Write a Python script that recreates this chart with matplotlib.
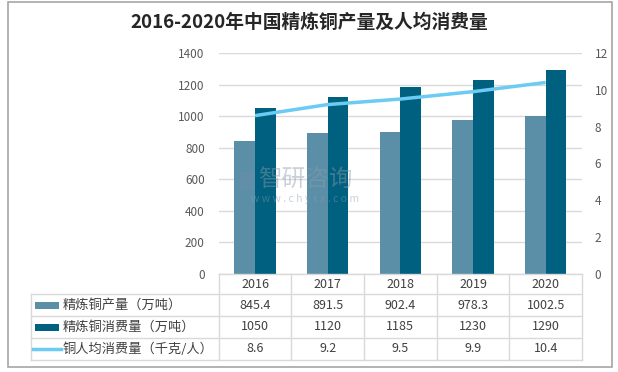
import matplotlib
matplotlib.use("Agg")
import matplotlib.pyplot as plt
import matplotlib.transforms as mtransforms
from matplotlib.patches import Rectangle
from matplotlib.lines import Line2D

plt.rcParams['font.family'] = ['Noto Sans CJK SC', 'DejaVu Sans']

# data
years = ['2016', '2017', '2018', '2019', '2020']
output = [845.4, 891.5, 902.4, 978.3, 1002.5]
consumption = [1050, 1120, 1185, 1230, 1290]
per_capita = [8.6, 9.2, 9.5, 9.9, 10.4]
row_labels = ['精炼铜产量（万吨）', '精炼铜消费量（万吨）', '铜人均消费量（千克/人）']
row_values = [output, consumption, per_capita]

c_light = '#5b8fa8'
c_dark = '#00607f'
c_line = '#6bcbf2'
grid_c = '#d9d9d9'
tick_c = '#595959'
text_c = '#404040'

W, H = 618, 372
fig = plt.figure(figsize=(W / 100, H / 100), dpi=100)

def fx(px):
    return px / W

def fy(py):
    return 1 - py / H

# outer frame
fig.patches.append(Rectangle((fx(8), fy(367)), fx(604), fy(2) - fy(367),
                             transform=fig.transFigure, fill=False, ec='#a6a6a6', lw=1.2))

fig.text(0.5, fy(22), '2016-2020年中国精炼铜产量及人均消费量', ha='center', va='center',
         fontsize=13.5, fontweight='bold', color='#262626')

ax = fig.add_axes([fx(218.7), fy(274), fx(582 - 218.7), fy(53) - fy(274)])
x = list(range(len(years)))
bw = 0.285
ax.bar([i - bw / 2 for i in x], output, width=bw, color=c_light, zorder=2)
ax.bar([i + bw / 2 for i in x], consumption, width=bw, color=c_dark, zorder=2)
ax.set_xlim(-0.5, len(years) - 0.5)
ax.set_ylim(0, 1400)
ax.set_yticks(range(0, 1401, 200))
ax.yaxis.grid(True, color=grid_c, lw=1)
ax.set_axisbelow(True)
ax.tick_params(axis='y', length=0, pad=10, labelsize=8.5, labelcolor=tick_c)
ax.set_xticks([])
for s in ax.spines.values():
    s.set_visible(False)

ax2 = ax.twinx()
ax2.plot(x, per_capita, color=c_line, lw=2.5, zorder=3, solid_capstyle='butt')
ax2.set_ylim(0, 12)
ax2.set_yticks(range(0, 13, 2))
ax2.tick_params(axis='y', length=0, pad=9, labelsize=8.5, labelcolor=tick_c)
for s in ax2.spines.values():
    s.set_visible(False)

# watermark
fig.text(fx(305), fy(180), '智研咨询', ha='center', va='center', fontsize=17,
         color='#8a9aa8', alpha=0.45, zorder=5)
fig.text(fx(305), fy(199), 'w w w . c h y x x . c o m', ha='center', va='center', fontsize=7.5,
         color='#8a9aa8', alpha=0.45, zorder=5)
fig.patches.append(Rectangle((fx(240), fy(190)), fx(14), fy(172) - fy(190), transform=fig.transFigure,
                             fc='#6d8fb0', alpha=0.35, zorder=5))

# data table under the plot
tb = mtransforms.blended_transform_factory(ax.transData, fig.transFigure)
row_y = [274, 294.3, 316, 338, 360]
lab_left = 30.7
plot_right = 582
lk = dict(color=grid_c, lw=1, transform=fig.transFigure)
fig.add_artist(Line2D([fx(218.7), fx(plot_right)], [fy(row_y[0])] * 2, **lk))
for yy in row_y[1:]:
    fig.add_artist(Line2D([fx(lab_left), fx(plot_right)], [fy(yy)] * 2, **lk))
fig.add_artist(Line2D([fx(lab_left)] * 2, [fy(row_y[1]), fy(row_y[-1])], **lk))
for b in [i - 0.5 for i in range(len(years) + 1)]:
    fig.add_artist(Line2D([b, b], [fy(row_y[0]), fy(row_y[-1])], color=grid_c, lw=1, transform=tb))

for i, yr in enumerate(years):
    fig.text(i, fy((row_y[0] + row_y[1]) / 2), yr, transform=tb, ha='center', va='center',
             fontsize=9, color=text_c)
for r, (lab, vals) in enumerate(zip(row_labels, row_values)):
    yc = fy((row_y[r + 1] + row_y[r + 2]) / 2)
    for i, v in enumerate(vals):
        fig.text(i, yc, f'{v:g}', transform=tb, ha='center', va='center', fontsize=9, color=text_c)
    fig.text(fx(63), yc, lab, ha='left', va='center', fontsize=9.5, color=text_c)
    if r < 2:
        fig.patches.append(Rectangle((fx(35), yc - (fy(0) - fy(3.5))), fx(24), fy(0) - fy(7),
                                     transform=fig.transFigure, fc=[c_light, c_dark][r], ec='none'))
    else:
        fig.add_artist(Line2D([fx(33), fx(61)], [yc, yc], color=c_line, lw=2.5, transform=fig.transFigure))

fig.savefig('out.png', dpi=100)
